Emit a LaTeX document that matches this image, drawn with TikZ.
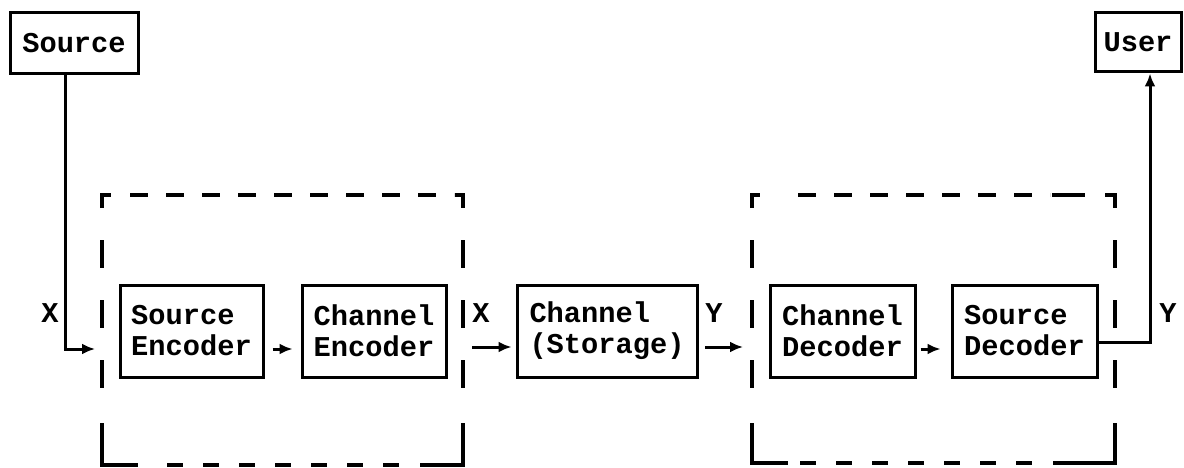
\documentclass[tikz,border=0pt]{standalone}
\usepackage{fontspec}
\setmonofont{Liberation Mono}
\usetikzlibrary{arrows.meta}
\tikzset{
  lbl/.style={font=\ttfamily\bfseries\fontsize{28.7}{31}\selectfont},
  blk/.style={lbl, draw, line width=3pt, align=left, inner sep=0pt, minimum height=92pt},
  wire/.style={line width=3pt},
  arr/.style={wire, -{Latex[length=13pt,width=11pt]}},
  frame/.style={line width=3.2pt},
  htop/.style={frame, dash pattern=on 18pt off 18pt},
  hbot/.style={frame, dash pattern=on 16pt off 20pt},
  vside/.style={frame, dash pattern=on 28pt off 32pt, dash phase=28pt}
}
\begin{document}
\begin{tikzpicture}[x=1pt,y=-1pt]
\useasboundingbox (0,0) rectangle (1184,468);

% end points of the system
\node[blk, minimum width=128pt, minimum height=61pt] (src) at (74,43.5) {Source};
\node[blk, minimum width=86pt, minimum height=59pt] (user) at (1138,42.5) {User};

% processing blocks
\node[blk, minimum width=143pt] (senc) at (191.5,331) {Source\\Encoder};
\node[blk, minimum width=144pt] (cenc) at (374,331) {Channel\\Encoder};
\node[blk, minimum width=180pt] (stor) at (607,331) {Channel\\(Storage)};
\node[blk, minimum width=145pt] (cdec) at (842.5,331) {Channel\\Decoder};
\node[blk, minimum width=145pt] (sdec) at (1024.5,331) {Source\\Decoder};

% free ends of the connectors
\coordinate (inX) at (95,349);
\coordinate (outX) at (472,347);
\coordinate (outY) at (705,347);
\coordinate (inY) at (743,347);

% transmitter frame
\draw[frame] (102,208) -- (102,195) -- (111,195);
\draw[htop, dash phase=18pt] (112,195) -- (454,195);
\draw[frame] (455,195) -- (463,195) -- (463,208);
\draw[vside] (102,208) -- (102,420);
\draw[vside] (463,208) -- (463,420);
\draw[frame] (102,423) -- (102,465) -- (138,465);
\draw[hbot, dash phase=16pt] (147,465) -- (419,465);
\draw[frame] (420,465) -- (463,465) -- (463,423);

% receiver frame
\draw[frame] (752,208) -- (752,195) -- (760,195);
\draw[htop, dash phase=18pt] (780,195) -- (1050,195);
\draw[frame] (1052,195) -- (1085,195);
\draw[frame] (1105,195) -- (1115,195) -- (1115,208);
\draw[vside] (752,208) -- (752,420);
\draw[vside] (1115,208) -- (1115,420);
\draw[frame] (752,423) -- (752,463) -- (788,463);
\draw[hbot, dash phase=24pt] (788,463) -- (1052,463);
\draw[frame] (1053,463) -- (1115,463) -- (1115,423);

% connectors
\draw[arr] ([xshift=-9pt]src.south) |- (inX);
\draw[arr, shorten <=8pt, shorten >=8pt] ([yshift=-18pt]senc.east) -- ([yshift=-18pt]cenc.west);
\draw[arr] (outX) -- ([xshift=-4pt]stor.west |- outX);
\draw[arr] (outY) -- (inY);
\draw[arr, shorten <=4pt, shorten >=10pt] ([yshift=-18pt]cdec.east) -- ([yshift=-18pt]sdec.west);
\draw[arr] ([yshift=-11pt]sdec.east) -| ([xshift=12pt]user.south);

% signal labels
\node[lbl] (lx1) at (50,313) {X};
\node[lbl] (lx2) at (481,313) {X};
\node[lbl] (ly1) at (714,313) {Y};
\node[lbl] (ly2) at (1168,313) {Y};
\end{tikzpicture}
\end{document}
